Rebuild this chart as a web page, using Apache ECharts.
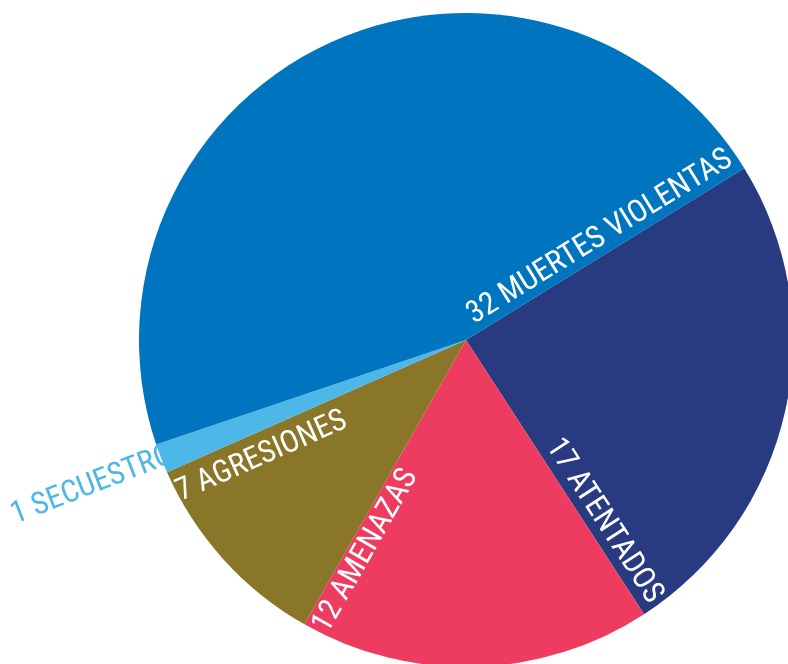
<!DOCTYPE html>
<html>
<head>
<meta charset="utf-8">
<script src="https://cdn.jsdelivr.net/npm/echarts@6/dist/echarts.min.js"></script>
<style>
  html, body { margin: 0; padding: 0; background: #ffffff; }
  #chart { width: 788px; height: 664px; }
</style>
</head>
<body>
<div id="chart"></div>
<script>
// ---- data ----
const categories = ['ATENTADOS', 'AMENAZAS', 'AGRESIONES', 'SECUESTRO', 'MUERTES VIOLENTAS'];
const values = [17, 12, 7, 1, 32];
const sliceColors = ['#283A80', '#EE3C60', '#8A7629', '#4DB8E8', '#0075BF'];
const labelColors = ['#ffffff', '#ffffff', '#ffffff', '#4DB8E8', '#ffffff'];

// ---- layout / style ----
const CX = 466, CY = 340, R = 327;
const START_ANGLE = 31.7;
const labelPlace = [
  { rc: 227, d: 17 },
  { rc: 233, d: 17 },
  { rc: 234, d: 24 },
  { rc: 401, d: 0, mid: true },
  { rc: 168, d: 17 }
];

const total = values.reduce((a, b) => a + b, 0);
const cum = [0];
values.forEach((v, i) => cum.push(cum[i] + v));

const chart = echarts.init(document.getElementById('chart'), null, { renderer: 'canvas' });

const data = categories.map((n, i) => ({
  name: n,
  value: values[i],
  itemStyle: { color: sliceColors[i] },
  label: { color: labelColors[i] }
}));

chart.setOption({
  animation: false,
  backgroundColor: '#ffffff',
  series: [{
    type: 'pie',
    center: [CX, CY],
    radius: [0, R],
    startAngle: START_ANGLE,
    clockwise: true,
    sort: null,
    avoidLabelOverlap: false,
    itemStyle: { borderWidth: 0 },
    emphasis: { disabled: true },
    labelLine: { show: false },
    label: {
      show: true,
      position: 'inside',
      formatter: '{c} {b}',
      fontFamily: 'Roboto Condensed',
      fontWeight: 'normal',
      fontSize: 31
    },
    labelLayout: function (params) {
      const i = params.dataIndex;
      const p = labelPlace[i];
      let a;
      if (p.mid) {
        a = START_ANGLE - (cum[i] + values[i] / 2) / total * 360;
      } else {
        a = START_ANGLE - cum[i + 1] / total * 360;
      }
      while (a <= -180) a += 360;
      while (a > 180) a -= 360;
      const rad = a * Math.PI / 180;
      const ux = Math.cos(rad), uy = -Math.sin(rad);
      const nx = -Math.sin(rad), ny = -Math.cos(rad);
      const x = CX + p.rc * ux + p.d * nx;
      const y = CY + p.rc * uy + p.d * ny;
      let rot = Math.cos(rad) >= 0 ? a : a + 180;
      if (rot > 180) rot -= 360;
      return { x: x, y: y, rotate: rot, align: 'center', verticalAlign: 'middle' };
    },
    data: data
  }]
});
</script>
</body>
</html>
